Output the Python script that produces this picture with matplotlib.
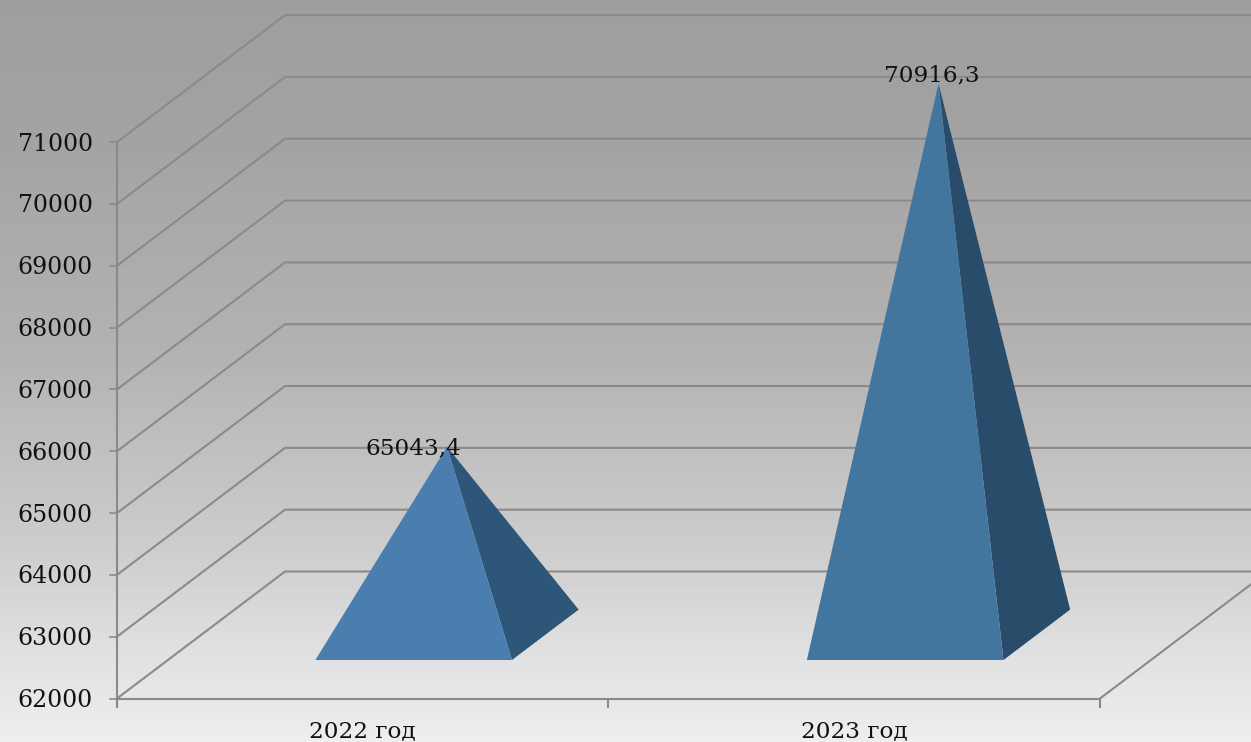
import numpy as np
import matplotlib
matplotlib.use("Agg")
import matplotlib.pyplot as plt

categories = ["2022 год", "2023 год"]
values = [65043.4, 70916.3]
value_labels = ["65043,4", "70916,3"]
axis_ticks = [62000, 63000, 64000, 65000, 66000, 67000, 68000, 69000, 70000, 71000]

W, H = 1251, 742
plt.rcParams["font.family"] = ["DejaVu Serif"]
fig = plt.figure(figsize=(W / 100, H / 100), dpi=100)
ax = fig.add_axes([0, 0, 1, 1])

# scales: one category = 491.5 px, 1000 units = 61.82 px
cat_px = 491.5
val_px = 61.82 / 1000
xlim = (-117 / cat_px, (W - 117) / cat_px)
ylim = (62000 - (H - 698.5) / val_px, 62000 + 698.5 / val_px)
ax.axis("off")

# oblique projection of the depth axis
DX = 168 / cat_px
DY = 127 / val_px


def proj(x, v, d):
    return x + DX * d, v + DY * d


# background gradient
rows = np.arange(H)
grey = np.interp(rows, [0, 120, 350, 550, 640, 742], [158, 162, 178, 205, 222, 238]) / 255
ax.imshow(grey[:, None], extent=[xlim[0], xlim[1], ylim[0], ylim[1]], origin="upper",
          aspect="auto", cmap="gray", vmin=0, vmax=1, zorder=0, interpolation="nearest")

LINE = "#8a8a8a"
TEXT = "#111111"
right = len(categories)
base = axis_ticks[0]
for v in axis_ticks:
    xs, vs = zip(proj(0, v, 0), proj(0, v, 1), proj(5, v, 1))
    ax.plot(xs, vs, color=LINE, lw=1.5, zorder=1, solid_joinstyle="miter")
    ax.plot([-7 / cat_px, 0], [v, v], color=LINE, lw=1.2, zorder=1)
    ax.text(-24 / cat_px, v - 2 / val_px, str(v), ha="right", va="center",
            fontsize=17, color=TEXT, zorder=5)

# axis lines
ax.plot([0, 0], [axis_ticks[-1], base - 8 / val_px], color=LINE, lw=1.5, zorder=1)
ax.plot([0, right], [base, base], color=LINE, lw=1.5, zorder=1)
xs, vs = zip(proj(right, base, 0), proj(right, base, 1))
ax.plot(xs, vs, color=LINE, lw=1.5, zorder=1)
for i in range(right + 1):
    ax.plot([i, i], [base, base - 8 / val_px], color=LINE, lw=1.5, zorder=1)
for i, c in enumerate(categories):
    ax.text(i + 0.5, base - 33 / val_px, c, ha="center", va="center",
            fontsize=16.7, color=TEXT, zorder=5)

# pyramids
front_cols = ["#4a7eae", "#43769f"]
side_cols = ["#2e5678", "#2a4c6b"]
label_off = [(-34, -2), (-7, 8)]
half = 0.2
d0, d1 = 0.303, 0.70
for i, v in enumerate(values):
    c = i + 0.5
    apex = proj(c, v, (d0 + d1) / 2)
    fl = proj(c - half, base, d0)
    fr = proj(c + half, base, d0)
    br = proj(c + half, base, d1)
    ax.fill(*zip(fr, br, apex), color=side_cols[i], lw=0, zorder=3)
    ax.fill(*zip(fl, fr, apex), color=front_cols[i], lw=0, zorder=4)
    ax.annotate(value_labels[i], apex, xytext=label_off[i], textcoords="offset pixels",
                ha="center", va="center", fontsize=16.7, color=TEXT, zorder=6)

ax.set_xlim(*xlim)
ax.set_ylim(*ylim)
fig.savefig("out.png", dpi=100)
